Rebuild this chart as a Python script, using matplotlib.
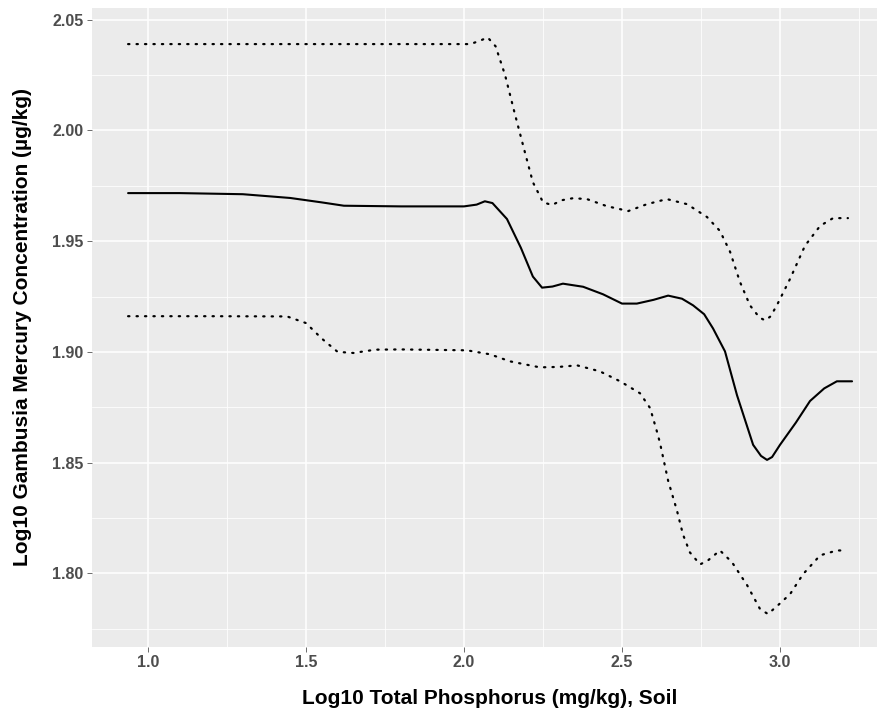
import matplotlib
matplotlib.use("Agg")
import matplotlib.pyplot as plt
from matplotlib.ticker import MultipleLocator

plt.rcParams['font.family'] = ['Liberation Sans', 'DejaVu Sans']

# fitted line
fit_x = [0.937, 1.10, 1.30, 1.45, 1.55, 1.62, 1.80, 2.00, 2.04, 2.066, 2.09, 2.136,
         2.18, 2.218, 2.247, 2.28, 2.313, 2.377, 2.44, 2.50, 2.547, 2.60, 2.646, 2.69,
         2.725, 2.76, 2.788, 2.826, 2.864, 2.915, 2.94, 2.959, 2.975, 3.00, 3.05, 3.095,
         3.14, 3.18, 3.228]
fit_y = [1.9717, 1.9717, 1.9712, 1.9695, 1.9675, 1.9660, 1.9657, 1.9657, 1.9665, 1.9680,
         1.9672, 1.9600, 1.9470, 1.9340, 1.9290, 1.9295, 1.9308, 1.9294, 1.9260, 1.9218,
         1.9218, 1.9235, 1.9254, 1.9240, 1.9210, 1.9170, 1.9106, 1.9002, 1.8804, 1.8580,
         1.8530, 1.8512, 1.8525, 1.8580, 1.8680, 1.8778, 1.8835, 1.8867, 1.8867]

# upper confidence band
upper_x = [0.937, 1.50, 2.02, 2.05, 2.075, 2.10, 2.13, 2.16, 2.193, 2.218, 2.25, 2.278,
           2.31, 2.345, 2.389, 2.452, 2.52, 2.579, 2.642, 2.706, 2.769, 2.81, 2.842,
           2.873, 2.905, 2.935, 2.953, 2.97, 2.99, 3.032, 3.079, 3.127, 3.168, 3.215]
upper_y = [2.0390, 2.0390, 2.0390, 2.0405, 2.0420, 2.0380, 2.0250, 2.0080, 1.9900,
           1.9766, 1.9676, 1.9663, 1.9685, 1.9694, 1.9690, 1.9658, 1.9636, 1.9667,
           1.9690, 1.9667, 1.9609, 1.9546, 1.9452, 1.9317, 1.9210, 1.9155, 1.9142,
           1.9160, 1.9210, 1.9330, 1.9479, 1.9569, 1.9604, 1.9604]

# lower confidence band
lower_x = [0.937, 1.20, 1.44, 1.50, 1.55, 1.60, 1.65, 1.72, 1.80, 2.009, 2.082, 2.146,
           2.24, 2.30, 2.358, 2.43, 2.494, 2.557, 2.589, 2.61, 2.62, 2.646, 2.674,
           2.693, 2.715, 2.747, 2.772, 2.81, 2.848, 2.896, 2.937, 2.962, 2.994, 3.032,
           3.073, 3.127, 3.18, 3.212]
lower_y = [1.9161, 1.9161, 1.9160, 1.9130, 1.9060, 1.9000, 1.8995, 1.9010, 1.9011,
           1.9007, 1.8989, 1.8957, 1.8930, 1.8932, 1.8939, 1.8912, 1.8867, 1.8813,
           1.8746, 1.8643, 1.8590, 1.8418, 1.8283, 1.8175, 1.8094, 1.8040, 1.8058,
           1.8103, 1.8050, 1.7946, 1.7838, 1.7816, 1.7856, 1.7906, 1.7996, 1.8081,
           1.8103, 1.8103]

W, H = 878, 719
fig = plt.figure(figsize=(W / 100, H / 100), dpi=100)
# panel runs past the right edge of the picture (cropped original)
ax = fig.add_axes([92 / W, (H - 647) / H, 796 / W, 639 / H])
ax.set_facecolor('#ebebeb')
for s in ax.spines.values():
    s.set_visible(False)

ax.set_xlim(0.8228, 3.3418)
ax.set_ylim(1.7667, 2.0553)
ax.xaxis.set_major_locator(MultipleLocator(0.5))
ax.xaxis.set_minor_locator(MultipleLocator(0.25))
ax.yaxis.set_major_locator(MultipleLocator(0.05))
ax.yaxis.set_minor_locator(MultipleLocator(0.025))
ax.grid(which='major', color='white', linewidth=1.1)
ax.grid(which='minor', color='white', linewidth=0.55)
ax.set_axisbelow(True)

ax.plot(fit_x, fit_y, color='black', linewidth=1.5, solid_capstyle='round')
ax.plot(upper_x, upper_y, color='black', linewidth=1.6, linestyle=(0, (0.6, 3.2)),
        dash_capstyle='round')
ax.plot(lower_x, lower_y, color='black', linewidth=1.6, linestyle=(0, (0.6, 3.2)),
        dash_capstyle='round')

ax.set_xticks([1.0, 1.5, 2.0, 2.5, 3.0])
ax.set_xticklabels(['1.0', '1.5', '2.0', '2.5', '3.0'])
ax.set_yticks([1.80, 1.85, 1.90, 1.95, 2.00, 2.05])
ax.set_yticklabels(['1.80', '1.85', '1.90', '1.95', '2.00', '2.05'])
ax.tick_params(which='major', length=3.5, width=0.6, color='#555555',
               labelsize=11.5, labelcolor='#4d4d4d', pad=2.5)
ax.tick_params(which='minor', length=0)
for lab in ax.get_xticklabels() + ax.get_yticklabels():
    lab.set_fontweight('bold')

ax.set_xlabel('Log10 Total Phosphorus (mg/kg), Soil', fontsize=15, fontweight='bold')
ax.set_ylabel('Log10 Gambusia Mercury Concentration (µg/kg)', fontsize=15,
              fontweight='bold')
ax.xaxis.set_label_coords(0.5, -(699 - 647) / 639, transform=ax.transAxes)
ax.yaxis.set_label_coords(-(92 - 22) / 796, 0.5, transform=ax.transAxes)
# recentre on the axes
ax.xaxis.label.set_va('center')
ax.yaxis.label.set_va('center')

fig.savefig('out.png', dpi=100)
